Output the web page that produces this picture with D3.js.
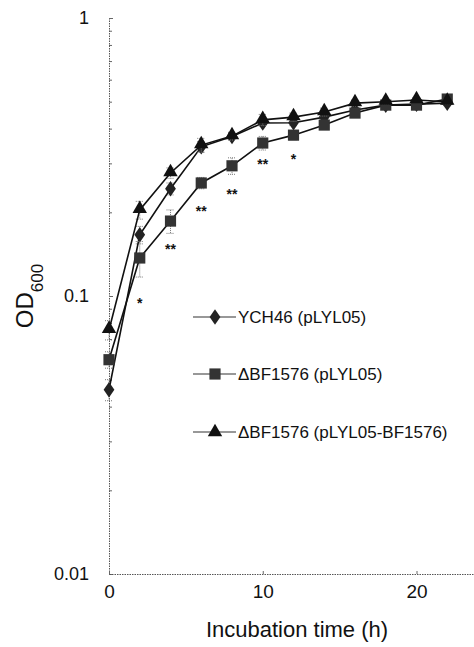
<html>
<head>
  <style>
    body { margin: 0; background: #fff; }
    text { font-family: "Liberation Sans", Arial, sans-serif; fill: #111; }
  </style>
</head>
<body>
<script src="https://cdn.jsdelivr.net/npm/d3@7"></script>
<script>
// time points (h)
var times = [0, 2, 4, 6, 8, 10, 12, 14, 16, 18, 20, 22]
// OD600 values
var wildType = [0.046, 0.166, 0.243, 0.344, 0.375, 0.419, 0.42, 0.44, 0.467, 0.486, 0.49, 0.494]
var mutant = [0.059, 0.137, 0.186, 0.255, 0.294, 0.355, 0.379, 0.412, 0.455, 0.486, 0.486, 0.511]
var complement = [0.0755, 0.204, 0.277, 0.349, 0.376, 0.43, 0.44, 0.459, 0.494, 0.5, 0.507, 0.5]
var wildErr = [0.004, 0.012, 0.012, 0.015, 0.01, 0.01, 0.01, 0.01, 0.01, 0.01, 0.01, 0.01]
var mutantErr = [0.004, 0.02, 0.018, 0.012, 0.02, 0.02, 0.015, 0.012, 0.01, 0.01, 0.01, 0.01]
var compErr = [0.006, 0.015, 0.012, 0.02, 0.012, 0.02, 0.015, 0.015, 0.012, 0.01, 0.01, 0.01]
var seriesNames = ['YCH46 (pLYL05)', '\u0394BF1576 (pLYL05)', '\u0394BF1576 (pLYL05-BF1576)']
// significance marks under the mutant curve
var sigTimes = [2, 4, 6, 8, 10, 12]
var sigMarks = ['*', '**', '**', '**', '**', '*']
var sigY = [0.0954, 0.149, 0.204, 0.235, 0.30, 0.313]
var xTicks = [0, 10, 20]
var yTicks = [0.01, 0.1, 1]

var width = 474, height = 647
var svg = d3.select('body').append('svg')
  .attr('width', width).attr('height', height)

var x = d3.scaleLinear().domain([0, 24]).range([109, 478])
var y = d3.scaleLog().domain([0.01, 1]).range([574, 18])

// minor ticks
var minor = y.ticks().filter(function(d) { return yTicks.indexOf(d) < 0 })
svg.append('g')
  .attr('transform', 'translate(109,0)')
  .call(d3.axisLeft(y).tickValues(minor).tickSize(-3).tickFormat(''))
  .call(function(g) { g.select('.domain').remove() })
  .selectAll('line').attr('stroke', '#666')

var yAxis = svg.append('g')
  .attr('transform', 'translate(109,0)')
  .call(d3.axisLeft(y).tickValues(yTicks).tickSizeInner(-4).tickSizeOuter(0).tickPadding(20)
    .tickFormat(function(d) { return d3.format('~g')(d) }))
yAxis.selectAll('text').style('font-size', '18px').style('font-family', '"Liberation Sans", Arial, sans-serif')
  .attr('fill', '#111')

var xAxis = svg.append('g')
  .attr('transform', 'translate(0,574)')
  .call(d3.axisBottom(x).tickValues(xTicks).tickSizeInner(-3).tickSizeOuter(0).tickPadding(11))
xAxis.selectAll('text').style('font-size', '19px').style('font-family', '"Liberation Sans", Arial, sans-serif')
  .attr('fill', '#111')

svg.selectAll('.domain').attr('stroke', '#555').attr('stroke-dasharray', '1.5,1')
svg.selectAll('.tick line').attr('stroke', '#666')

// axis titles
svg.append('text')
  .attr('x', 297).attr('y', 637)
  .attr('text-anchor', 'middle')
  .style('font-size', '22px')
  .text('Incubation time (h)')

var yLab = svg.append('text')
  .attr('transform', 'translate(33,296) rotate(-90)')
  .attr('text-anchor', 'middle')
  .style('font-size', '24px')
yLab.append('tspan').text('OD')
yLab.append('tspan').attr('dy', 10).style('font-size', '17px').text('600')

var series = [
  { name: seriesNames[0], values: wildType, err: wildErr, shape: d3.symbolDiamond, size: 70, color: '#222' },
  { name: seriesNames[1], values: mutant, err: mutantErr, shape: d3.symbolSquare, size: 125, color: '#333' },
  { name: seriesNames[2], values: complement, err: compErr, shape: d3.symbolTriangle, size: 90, color: '#111' }
]

var line = d3.line()
  .x(function(d) { return x(d.t) })
  .y(function(d) { return y(d.v) })

series.forEach(function(s) {
  var pts = times.map(function(t, i) { return { t: t, v: s.values[i], e: s.err[i] } })
  var g = svg.append('g')
  // error bars
  g.selectAll('.err').data(pts).enter().append('path')
    .attr('d', function(d) {
      var cx = x(d.t), y0 = y(d.v + d.e), y1 = y(d.v - d.e)
      return 'M' + (cx - 4) + ',' + y0 + 'H' + (cx + 4) + 'M' + cx + ',' + y0 + 'V' + y1 +
        'M' + (cx - 4) + ',' + y1 + 'H' + (cx + 4)
    })
    .attr('stroke', '#777').attr('stroke-width', 1).attr('stroke-dasharray', '1,1').attr('fill', 'none')
  g.append('path').datum(pts)
    .attr('d', line)
    .attr('fill', 'none').attr('stroke', '#111').attr('stroke-width', 1.6)
  g.selectAll('.pt').data(pts).enter().append('path')
    .attr('transform', function(d) {
      var dy = s.shape === d3.symbolTriangle ? -1 : 0
      return 'translate(' + x(d.t) + ',' + (y(d.v) + dy) + ')' + (s.shape === d3.symbolDiamond ? ' scale(1.2,1)' : '')
    })
    .attr('d', d3.symbol().type(s.shape).size(s.size))
    .attr('fill', s.color)
})

// significance asterisks
svg.selectAll('.sig').data(sigTimes).enter().append('text')
  .attr('x', function(d) { return x(d) })
  .attr('y', function(d, i) { return y(sigY[i]) + 6 })
  .attr('text-anchor', 'middle')
  .style('font-size', '14px')
  .style('font-weight', 'bold')
  .text(function(d, i) { return sigMarks[i] })

// legend
var leg = svg.append('g')
var legY = [317, 374, 432]
series.forEach(function(s, i) {
  leg.append('line')
    .attr('x1', 193).attr('x2', 236).attr('y1', legY[i]).attr('y2', legY[i])
    .attr('stroke', '#333').attr('stroke-width', 1.1)
  leg.append('path')
    .attr('transform', 'translate(215,' + legY[i] + ')' + (s.shape === d3.symbolDiamond ? ' scale(1.2,1)' : ''))
    .attr('d', d3.symbol().type(s.shape).size(s.size))
    .attr('fill', s.color)
  leg.append('text')
    .attr('x', 238).attr('y', legY[i] + 6)
    .style('font-size', '17px')
    .text(s.name)
})
</script>
</body>
</html>
